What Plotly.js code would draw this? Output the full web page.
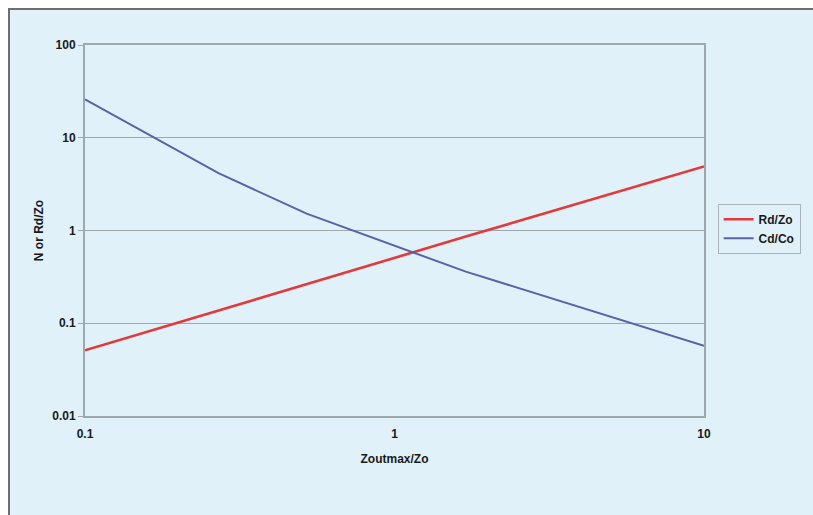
<!DOCTYPE html>
<html>
<head>
<meta charset="utf-8">
<script src="https://cdn.plot.ly/plotly-3.0.1.min.js"></script>
<style>
  html, body { margin: 0; padding: 0; background: #ffffff; }
  #frame {
    position: absolute; left: 8px; top: 8px;
    width: 805px; height: 507px;
    border-left: 2px solid #6e6e6e; border-top: 2px solid #6e6e6e;
    background: #e0f1fa;
  }
  #chart { width: 803px; height: 505px; }
</style>
</head>
<body>
<div id="frame"><div id="chart"></div></div>
<script>
// Output impedance ratio Zoutmax/Zo
const zRatio = [0.1, 0.27, 0.52, 1.13, 1.7, 10];
// Rd/Zo series
const rdZo = [0.051, 0.137, 0.262, 0.57, 0.86, 4.9];
// Cd/Co series
const cdCo = [26, 4.15, 1.52, 0.59, 0.36, 0.057];

const seriesNames = ['Rd/Zo', 'Cd/Co'];
const yTickVals = [0.01, 0.1, 1, 10, 100];
const yTickText = ['0.01', '0.1', '1', '10', '100'];
const xTickVals = [0.1, 1, 10];
const xTickText = ['0.1', '1', '10'];

const bg = '#e0f1fa';
const axisGray = '#9ea9ae';
const font = { family: 'Liberation Sans, Arial, sans-serif', size: 12, color: '#1a1a1a', weight: 'bold' };

const traces = [
  { x: zRatio, y: rdZo, name: seriesNames[0], mode: 'lines', type: 'scatter',
    line: { color: '#e23a3a', width: 2.6 } },
  { x: zRatio, y: cdCo, name: seriesNames[1], mode: 'lines', type: 'scatter',
    line: { color: '#5a62a6', width: 2 } }
];

const layout = {
  width: 803, height: 505,
  margin: { l: 75, r: 107, t: 35, b: 99 },
  paper_bgcolor: bg, plot_bgcolor: bg,
  font: font,
  showlegend: true,
  legend: {
    x: 1.022, y: 0.572, xanchor: 'left', yanchor: 'top',
    bgcolor: bg, bordercolor: '#a9b3b8', borderwidth: 1,
    font: font, itemwidth: 30, tracegroupgap: 0
  },
  xaxis: {
    type: 'log', range: [-1, 1],
    tickvals: xTickVals, ticktext: xTickText,
    showgrid: false, zeroline: false,
    showline: true, linecolor: axisGray, linewidth: 2, mirror: true,
    ticks: 'outside', ticklen: 6, tickcolor: bg,
    tickfont: font,
    title: { text: 'Zoutmax/Zo', font: font, standoff: 14 }
  },
  yaxis: {
    type: 'log', range: [-2, 2],
    tickvals: yTickVals, ticktext: yTickText,
    showgrid: true, gridcolor: axisGray, gridwidth: 1,
    zeroline: false,
    showline: true, linecolor: axisGray, linewidth: 2, mirror: true,
    ticks: 'outside', ticklen: 5, tickcolor: axisGray,
    tickfont: font,
    title: { text: 'N or Rd/Zo', font: font, standoff: 6 }
  }
};

Plotly.newPlot('chart', traces, layout, { displayModeBar: false, staticPlot: true });
</script>
</body>
</html>
